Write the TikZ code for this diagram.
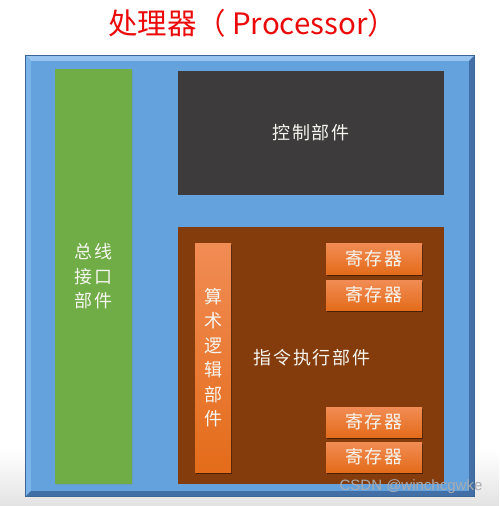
\documentclass[tikz,border=0pt]{standalone}
\usepackage{fontspec}
\newfontfamily\cjk{Noto Sans CJK SC}
\newfontfamily\cjkwide[LetterSpace=10]{Noto Sans CJK SC}
\setsansfont{Liberation Sans}
\usetikzlibrary{shadows}
\definecolor{bgblue}{RGB}{100,162,222}
\definecolor{bevlight}{RGB}{150,196,238}
\definecolor{bevmid}{RGB}{122,180,232}
\definecolor{bevdark}{RGB}{66,112,166}
\definecolor{bevline}{RGB}{60,100,150}
\definecolor{busgreen}{RGB}{112,173,71}
\definecolor{ctrlgray}{RGB}{61,59,60}
\definecolor{execbrown}{RGB}{132,60,12}
\definecolor{orlight}{RGB}{241,140,85}
\definecolor{ordark}{RGB}{228,108,26}
\definecolor{titlered}{RGB}{235,10,10}
\definecolor{txtwhite}{RGB}{246,246,240}
\definecolor{wmgray}{RGB}{168,172,178}
\tikzset{
  panel/.style={draw=none, inner sep=0pt, text=txtwhite, font=\cjkwide\fontsize{18}{24.5}\selectfont, align=center},
  orangebox/.style={panel, top color=orlight, bottom color=ordark,
     drop shadow={shadow xshift=1.2pt, shadow yshift=-1.8pt, opacity=0.45, fill=black}},
  regbox/.style={orangebox, minimum width=96pt, minimum height=30pt},
}
\begin{document}
\begin{tikzpicture}[x=1pt,y=-1pt]
\useasboundingbox (0,0) rectangle (499,506);
% screenshot background
\shade[top color=white, bottom color=white!89!black] (0,450) rectangle (499,506);
% title
\node[text=titlered, font=\cjk\fontsize{29.5}{32}\selectfont, inner sep=0pt, anchor=west] (title) at (108,23) {处理器（\hspace{6pt}Processor）};
% outer bevelled processor box
\fill[bevline] (25,55) rectangle (475,497);
\fill[bevlight] (26,56) -- (474,56) -- (469,61) -- (31,61) -- cycle;
\fill[bevmid] (26,56) -- (31,61) -- (31,491) -- (26,496) -- cycle;
\fill[bevdark] (474,56) -- (474,496) -- (469,491) -- (469,61) -- cycle;
\fill[bevdark] (26,496) -- (474,496) -- (469,491) -- (31,491) -- cycle;
\node[panel, fill=bgblue, minimum width=438pt, minimum height=430pt] (cpu) at (250,276) {};
% bus interface
\node[panel, fill=busgreen, minimum width=77pt, minimum height=415pt,
  drop shadow={shadow xshift=1pt, shadow yshift=-1pt, opacity=0.25}] (bus) at (93.5,276.5) {总线\\接口\\部件};
% control unit
\node[panel, fill=ctrlgray, minimum width=266pt, minimum height=124pt] (ctrl) at (311,133) {控制部件};
% execution unit
\node[panel, fill=execbrown, minimum width=266pt, minimum height=257pt] (exec) at (311,355.5) {};
\node[panel] (execlabel) at (312,358) {指令执行部件};
% ALU
\node[orangebox, minimum width=36pt, minimum height=229pt] (alu) at (213,357.5) {算\\术\\逻\\辑\\部\\件};
% registers
\node[regbox, minimum height=31pt] (r1) at (374,258.5) {寄存器};
\node[regbox] (r2) at (374,295) {寄存器};
\node[regbox] (r3) at (374,422) {寄存器};
\node[regbox] (r4) at (374,457) {寄存器};
% watermark
\node[font=\sffamily\fontsize{15}{17}\selectfont, text=wmgray, inner sep=0pt] (wm) at (411,487) {CSDN @winchcgwke};
\end{tikzpicture}
\end{document}
